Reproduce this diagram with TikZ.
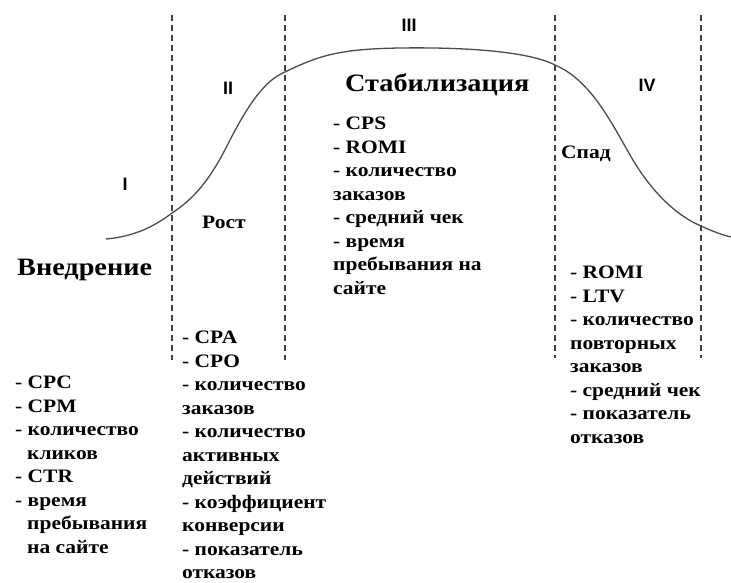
\documentclass[tikz,border=0pt]{standalone}
\usepackage{fontspec}
\setmainfont[FakeStretch=1.13]{Liberation Serif}
\newfontfamily\numfont{Liberation Sans}
\begin{document}
\begin{tikzpicture}[x=1pt,y=-1pt]
\useasboundingbox (0,0) rectangle (731,583);
\tikzset{
  divider/.style={draw=black!75, line width=1.4pt, dash pattern=on 6pt off 4pt},
  curve/.style={draw=black!70, line width=1.3pt},
  stage/.style={font=\numfont\bfseries\fontsize{18}{18}\selectfont, inner sep=0pt},
  title/.style={font=\bfseries\fontsize{25}{25}\selectfont, inner sep=0pt, anchor=west},
  small title/.style={font=\bfseries\fontsize{19}{19}\selectfont, inner sep=0pt, anchor=west},
  metrics/.style={font=\bfseries\fontsize{19}{23.5}\selectfont, inner sep=0pt, anchor=north west, align=left}
}
% dividers
\coordinate (d1t) at (172,15); \coordinate (d1b) at (172,360);
\coordinate (d2t) at (285,15); \coordinate (d2b) at (285,360);
\coordinate (d3t) at (555,15); \coordinate (d3b) at (555,358);
\coordinate (d4t) at (701,15); \coordinate (d4b) at (701,358);
\draw[divider] (d1t) -- (d1b);
\draw[divider] (d2t) -- (d2b);
\draw[divider] (d3t) -- (d3b);
\draw[divider] (d4t) -- (d4b);
% life-cycle curve
\draw[curve] (106,239) .. controls (140,236) and (160,222) .. (172,213)
  .. controls (200,195) and (215,170) .. (230,140)
  .. controls (248,105) and (265,80) .. (285,72)
  .. controls (320,55) and (340,49) .. (400,48)
  .. controls (470,47) and (530,52) .. (555,65)
  .. controls (590,80) and (610,120) .. (630,155)
  .. controls (650,190) and (675,215) .. (701,226)
  .. controls (712,231) and (722,235) .. (731,237);
% stage numbers
\node[stage] (n1) at (125,184) {I};
\node[stage] (n2) at (228,88) {II};
\node[stage] (n3) at (409,25) {III};
\node[stage] (n4) at (647,85) {IV};
% titles
\node[title] (t1) at (17,270) {Внедрение};
\node[small title] (t2) at (202,222) {Рост};
\node[title] (t3) at (345,85) {Стабилизация};
\node[small title] (t4) at (561,154) {Спад};
% metric lists
\node[metrics] (m1) at (15,376) {- CPC\\- CPM\\- количество\\\hspace*{12pt}кликов\\- CTR\\- время\\\hspace*{12pt}пребывания\\\hspace*{12pt}на сайте};
\node[metrics] (m2) at (182,331) {- CPA\\- CPO\\- количество\\заказов\\- количество\\активных\\действий\\- коэффициент\\конверсии\\- показатель\\отказов};
\node[metrics] (m3) at (333,117) {- CPS\\- ROMI\\- количество\\заказов\\- средний чек\\- время\\пребывания на\\сайте};
\node[metrics] (m4) at (570,266) {- ROMI\\- LTV\\- количество\\повторных\\заказов\\- средний чек\\- показатель\\отказов};
\end{tikzpicture}
\end{document}
